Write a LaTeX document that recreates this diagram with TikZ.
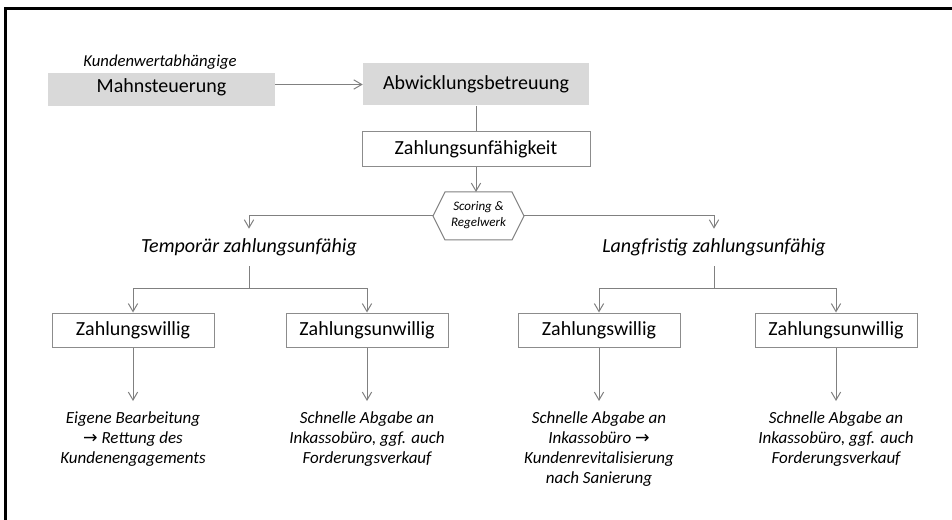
\documentclass[tikz,border=0pt]{standalone}
\usepackage{fontspec}
\setmainfont{Carlito}
\newfontfamily\arrowfont{DejaVu Sans}
\usetikzlibrary{arrows.meta}
\definecolor{lnc}{HTML}{808080}
\definecolor{bxc}{HTML}{8C8C8C}
\definecolor{flc}{HTML}{D9D9D9}
\newcommand\pxu{0.75pt}
\newcommand\rarr{{\arrowfont\fontsize{13}{15}\selectfont →}}
\begin{document}
\begin{tikzpicture}[x=0.75pt,y=-0.75pt,
  big/.style={font=\fontsize{15}{18}\selectfont},
  gbox/.style={fill=flc, draw=none, inner sep=0, big},
  wbox/.style={draw=bxc, line width=0.75pt, fill=white, inner sep=0, big, minimum width={162*\pxu}, minimum height={34*\pxu}},
  lnst/.style={draw=lnc, line width=0.75pt},
  arr/.style={lnst, -{Straight Barb[length=6pt,width=7pt]}},
  res/.style={font=\fontsize{12.75}{15}\selectfont\itshape, align=center, anchor=north, inner xsep=0, inner ysep=7.5pt},
  head/.style={font=\fontsize{15}{18}\selectfont\itshape, inner sep=0, minimum height={37*\pxu}}
]
\useasboundingbox (0,0) rectangle (952,520);
\begin{scope}
\clip (0,0) rectangle (952,520);
\draw[line width=1.9pt] (5.5,8.5) rectangle (990,560);
\end{scope}

\node[font=\fontsize{12.5}{14}\selectfont\itshape, inner sep=0] (kw) at (160,62) {Kundenwertabhängige};
\node[gbox, minimum width={227*\pxu}, minimum height={33*\pxu}, text height=10pt, text depth=6pt] (mahn) at (161.5,89.5) {Mahnsteuerung};
\node[gbox, minimum width={226*\pxu}, minimum height={42*\pxu}] (abw) at (476,84.5) {Abwicklungsbetreuung};
\node[wbox, minimum width={228*\pxu}, minimum height={35*\pxu}] (zu) at (476,149.5) {Zahlungsunfähigkeit};

\draw[arr] (mahn.east |- abw.west) -- (abw.west);
\draw[lnst] (abw.south) -- (zu.north);

% hexagon
\draw[lnst, fill=white] (433,216) coordinate (hL) -- (445,192) -- (512,192) -- (524,216) coordinate (hR) -- (512,240) -- (445,240) -- cycle;
\coordinate (hT) at (476,192);
\node[font=\fontsize{9.75}{12}\selectfont\itshape, align=center, inner sep=0] (sc) at (478.5,215) {Scoring \&\\Regelwerk};
\draw[arr] (zu.south) -- (hT);

% headings
\node[head] (tz) at (249,247.5) {Temporär zahlungsunfähig};
\node[head] (lz) at (714,247.5) {Langfristig zahlungsunfähig};
\draw[arr] (hL) -| (tz.north);
\draw[arr] (hR) -| (lz.north);

% boxes
\node[wbox] (w1) at (133,330) {Zahlungswillig};
\node[wbox] (u1) at (367,330) {Zahlungsunwillig};
\node[wbox] (w2) at (599,330) {Zahlungswillig};
\node[wbox] (u2) at (836,330) {Zahlungsunwillig};

\coordinate (tzb) at (249,288);
\coordinate (lzb) at (714,288);
\draw[lnst] (tz.south) -- (tzb);
\draw[lnst] (lz.south) -- (lzb);
\draw[arr] (tzb) -| (w1.north);
\draw[arr] (tzb) -| (u1.north);
\draw[arr] (lzb) -| (w2.north);
\draw[arr] (lzb) -| (u2.north);

% results
\node[res] (r1) at (133,401) {Eigene Bearbeitung\\\rarr\ Rettung des\\Kundenengagements};
\node[res] (r2) at (367,401) {Schnelle Abgabe an\\Inkassobüro, ggf. auch\\Forderungsverkauf};
\node[res] (r3) at (599,401) {Schnelle Abgabe an\\Inkassobüro \rarr\\Kundenrevitalisierung\\nach Sanierung};
\node[res] (r4) at (836,401) {Schnelle Abgabe an\\Inkassobüro, ggf. auch\\Forderungsverkauf};
\draw[arr] (w1.south) -- (r1.north);
\draw[arr] (u1.south) -- (r2.north);
\draw[arr] (w2.south) -- (r3.north);
\draw[arr] (u2.south) -- (r4.north);
\end{tikzpicture}
\end{document}
